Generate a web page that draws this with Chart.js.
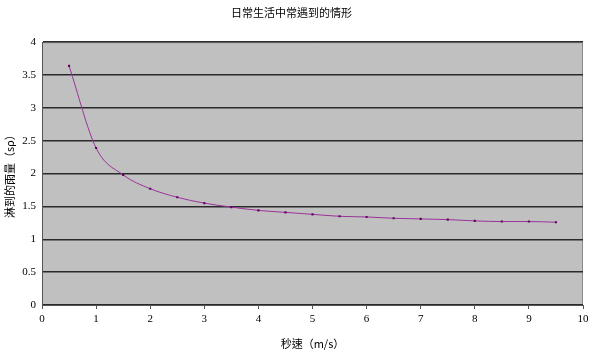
<!DOCTYPE html>
<html>
<head>
<meta charset="utf-8">
<script src="https://cdn.jsdelivr.net/npm/chart.js@4"></script>
<style>
  html, body { margin: 0; padding: 0; background: #fff; }
  #caja { width: 600px; height: 360px; }
</style>
</head>
<body>
<div id="caja"><canvas id="grafico"></canvas></div>
<script>
// datos
const velocidades = [0.5, 1, 1.5, 2, 2.5, 3, 3.5, 4, 4.5, 5, 5.5, 6, 6.5, 7, 7.5, 8, 8.5, 9, 9.5];
const lluvia = [3.64, 2.39, 1.98, 1.77, 1.64, 1.55, 1.49, 1.44, 1.41, 1.38, 1.35, 1.34, 1.32, 1.31, 1.30, 1.28, 1.27, 1.27, 1.26];
const titulo = '日常生活中常遇到的情形';
const tituloX = '秒速（m/s）';
const tituloY = '淋到的雨量（sρ）';

const fuenteCJK = '"Noto Sans CJK TC", "Noto Sans CJK SC", sans-serif';
const fuenteNum = '"Liberation Serif", "DejaVu Serif", serif';

// fondo gris del area de trazado, como en Excel
const fondoGris = {
  id: 'fondoGris',
  beforeDraw(chart) {
    const { ctx, chartArea: a } = chart;
    ctx.save();
    ctx.fillStyle = '#c0c0c0';
    ctx.fillRect(a.left, a.top, a.right - a.left, a.bottom - a.top);
    ctx.strokeStyle = '#8a8a8a';
    ctx.lineWidth = 1;
    ctx.beginPath();
    ctx.moveTo(a.left, a.top + 0.5);
    ctx.lineTo(a.right - 0.5, a.top + 0.5);
    ctx.lineTo(a.right - 0.5, a.bottom);
    ctx.stroke();
    ctx.restore();
  }
};

const puntos = velocidades.map((v, i) => ({ x: v, y: lluvia[i] }));

new Chart(document.getElementById('grafico'), {
  type: 'line',
  data: {
    datasets: [{
      data: puntos,
      borderColor: '#993399',
      borderWidth: 1,
      backgroundColor: '#660066',
      pointStyle: 'rect',
      pointRadius: 1.5,
      pointBorderWidth: 0,
      cubicInterpolationMode: 'monotone',
      fill: false
    }]
  },
  options: {
    responsive: true,
    maintainAspectRatio: false,
    animation: false,
    layout: { padding: { left: 0, right: 17, top: 0, bottom: 0 } },
    plugins: {
      legend: { display: false },
      tooltip: { enabled: false },
      title: {
        display: true,
        text: titulo,
        color: '#000',
        font: { family: fuenteCJK, size: 11, weight: 'normal' },
        padding: { top: 6, bottom: 23 }
      }
    },
    scales: {
      x: {
        type: 'linear',
        min: 0,
        max: 10,
        ticks: { stepSize: 1, color: '#000', font: { family: fuenteNum, size: 11 }, padding: 4 },
        grid: { display: true, drawOnChartArea: false, drawTicks: true, tickLength: 4, color: '#555' },
        border: { color: '#555', width: 1 },
        title: {
          display: true,
          text: tituloX,
          color: '#000',
          font: { family: fuenteCJK, size: 11 },
          padding: { top: 4, bottom: 10 }
        },
        afterFit(scale) { scale.height = 55; }
      },
      y: {
        min: 0,
        max: 4,
        ticks: {
          stepSize: 0.5,
          color: '#000',
          font: { family: fuenteNum, size: 11 },
          padding: 6,
          callback: (v) => String(v)
        },
        grid: { color: '#2a2a2a', lineWidth: 1.5, drawTicks: false },
        border: { color: '#555', width: 1 },
        title: {
          display: true,
          text: tituloY,
          color: '#000',
          font: { family: fuenteCJK, size: 11 },
          padding: { top: 3, bottom: 0 }
        },
        afterFit(scale) { scale.width = 42; }
      }
    }
  },
  plugins: [fondoGris]
});
</script>
</body>
</html>
